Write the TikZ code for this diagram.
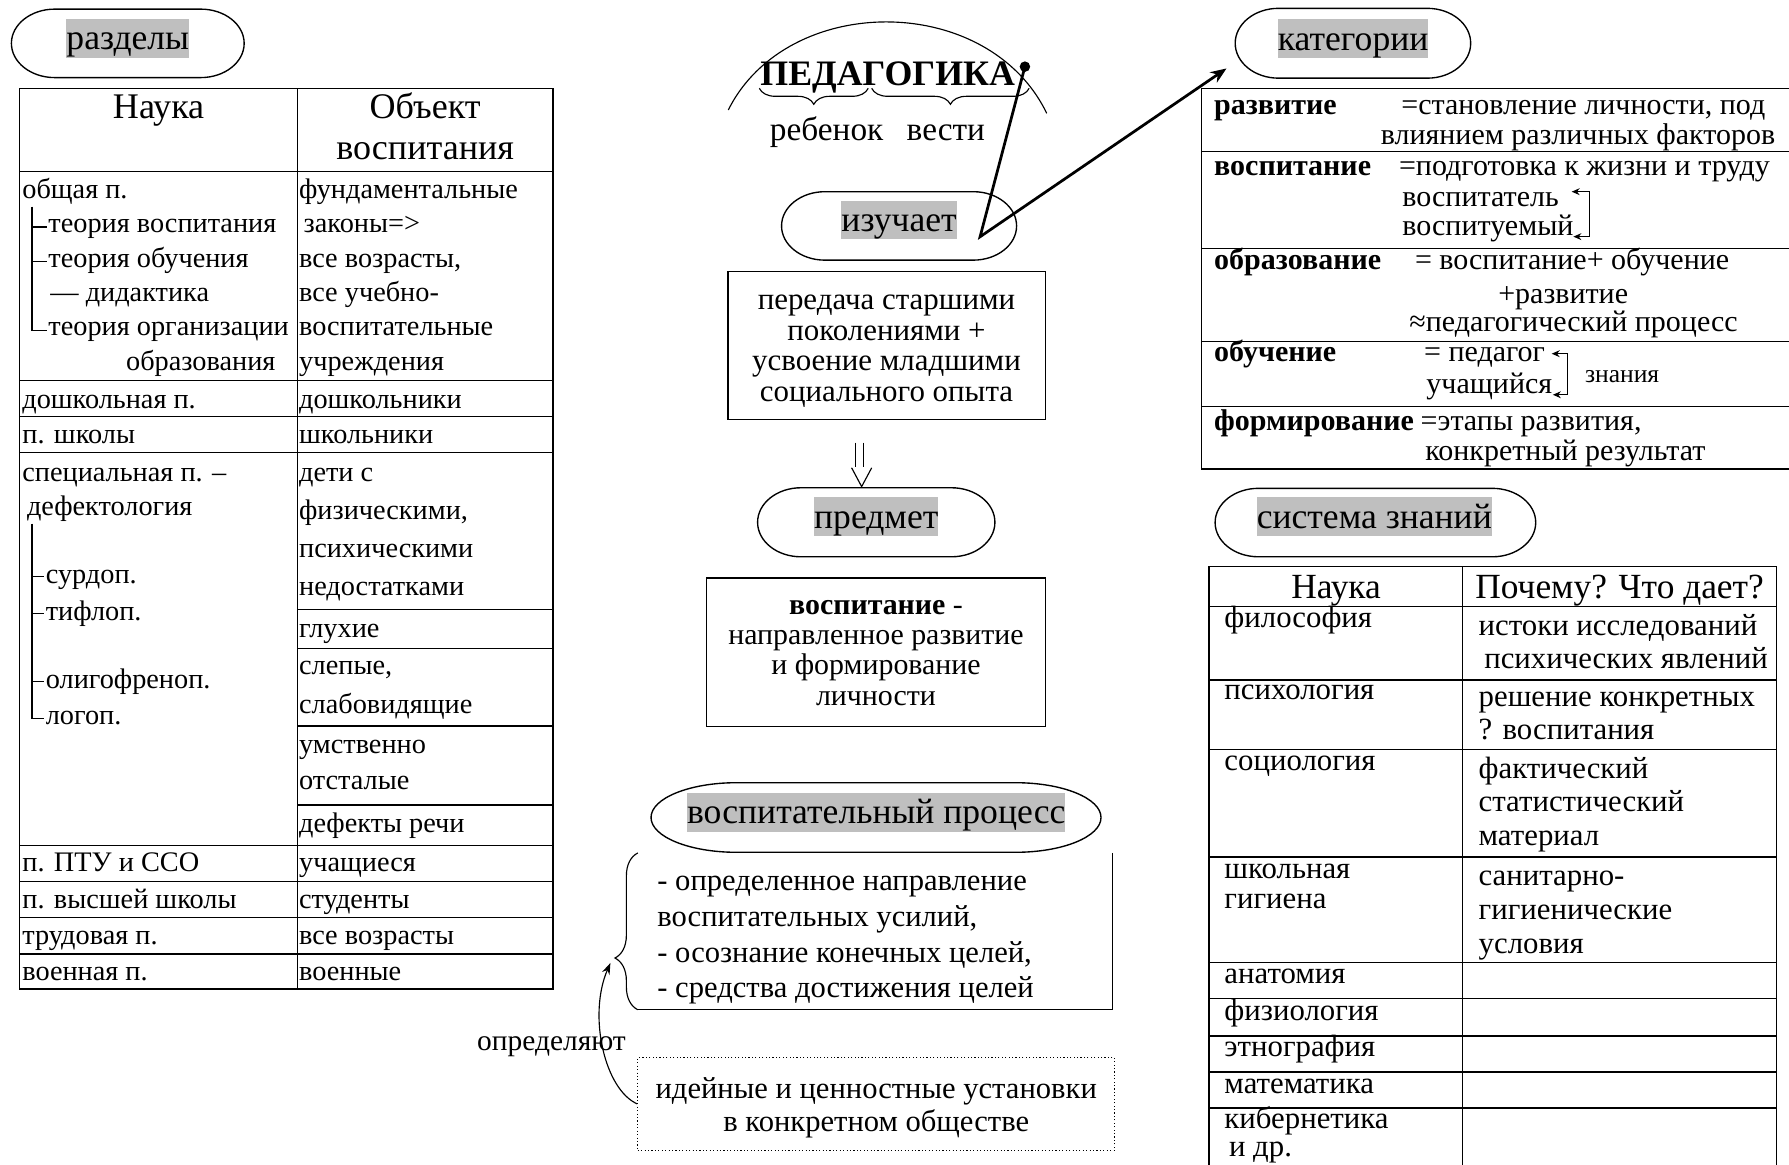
\documentclass[tikz,border=0pt]{standalone}
\usepackage{fontspec}
\setmainfont{Liberation Serif}
\usetikzlibrary{arrows.meta,decorations.pathreplacing}
\definecolor{hlgray}{gray}{0.75}
% gray text highlight
\newcommand\hlb[1]{{\setlength{\fboxsep}{0pt}\colorbox{hlgray}{\rule[-0.22em]{0pt}{1.09em}#1}}}
\newcommand\setfs[2]{\fontsize{#1}{#2}\selectfont}
% stacked lines with a fixed line pitch; baseline = first line
\newcommand\lnsL[2][]{\vtop{\lineskiplimit=-1000pt\lineskip=0pt#1\halign{##\hfil\cr#2\crcr}}}
\newcommand\lnsC[2][]{\vtop{\lineskiplimit=-1000pt\lineskip=0pt#1\halign{\hfil##\hfil\cr#2\crcr}}}
% stadium-like outline: x1,y1,x2,y2,rx
\newcommand\ovalshape[5]{%
  \draw[ovl] (#1+#5,#2) -- (#3-#5,#2)
    arc[start angle=-90,end angle=90,x radius=#5,y radius={(#4-#2)/2}]
    -- (#1+#5,#4)
    arc[start angle=90,end angle=270,x radius=#5,y radius={(#4-#2)/2}] -- cycle;}
\begin{document}
\begin{tikzpicture}[x=1pt,y=-1pt,
  tbl/.style={line width=1.3pt},
  thinl/.style={line width=1pt},
  ovl/.style={line width=1.2pt},
  conn/.style={line width=2.4pt},
  tx/.style={inner sep=0pt, anchor=base west},
  txc/.style={inner sep=0pt, anchor=base},
  lt/.style={tx, font=\setfs{24.8}{30.1}},
  hd/.style={txc, font=\setfs{31.6}{36.3}},
  ovtxt/.style={txc, font=\setfs{31.2}{36}},
  kt/.style={tx, font=\setfs{26.3}{28}},
  kb/.style={tx, font=\bfseries\setfs{26.3}{28}},
  zt/.style={tx, font=\setfs{27}{28.5}},
  zh/.style={txc, font=\setfs{31}{36}},
  smallbar/.style={thinl, {Stealth[length=7pt,width=6pt]}-{Stealth[length=7pt,width=6pt]}},
  bracedec/.style={thinl, decorate, decoration={brace, amplitude=#1}}
]
\useasboundingbox (0,0) rectangle (1568,1021);

% ---------------- left: sections of pedagogy ----------------
\ovalshape{10}{8}{214}{68}{38}
\node[ovtxt] (razdely) at (112,43.8) {\hlb{разделы}};

\draw[tbl] (17.2,77.4) rectangle (484.5,867);
\draw[tbl] (260.7,77.4) -- (260.7,867);
\foreach \yy in {150.5,333.5,365,396.7,741.2,772.8,804,836}
  \draw[tbl] (17.2,\yy) -- (484.5,\yy);
\foreach \yy in {534,568.5,636.4,705.6}
  \draw[tbl] (260.7,\yy) -- (484.5,\yy);

\node[hd] (h-nauka) at (139,103.7) {Наука};
\node[hd] (h-obj) at (372.6,103.7) {\lnsC{Объект\cr воспитания}};

\node[lt] (n11) at (19.4,174) {\lnsL{общая п.\cr\hspace*{22.9pt}теория воспитания\cr\hspace*{22.9pt}теория обучения\cr\hspace*{24.6pt}— дидактика\cr\hspace*{22.9pt}теория организации\cr\hspace*{91pt}образования}};
\node[lt] (n12) at (262,174) {\lnsL{фундаментальные\cr\hspace*{4pt}законы=>\cr все возрасты,\cr все учебно-\cr воспитательные\cr учреждения}};
\draw[thinl] (28,181) -- (28,289.4) -- (41,289.4);
\draw[thinl] (28,199) -- (41,199);
\draw[thinl] (28,229.4) -- (41,229.4);

\node[lt] (n21) at (19.4,357.7) {дошкольная п.};
\node[lt] (n22) at (262,357.7) {дошкольники};
\node[lt] (n31) at (19.4,388.5) {п. школы};
\node[lt] (n32) at (262,388.5) {школьники};

\node[lt] (n41) at (19.4,422) {специальная п. –};
\node[lt] (n41b) at (23.5,451.4) {дефектология};
\node[lt] (n41c) at (40,511) {сурдоп.};
\node[lt] (n41d) at (40,543.4) {тифлоп.};
\node[lt] (n41e) at (40,603) {олигофреноп.};
\node[lt] (n41f) at (40,635.4) {логоп.};
\draw[thinl] (28,459) -- (28,629.8) -- (39,629.8);
\draw[thinl] (28,505.4) -- (39,505.4);
\draw[thinl] (28,537.8) -- (39,537.8);
\draw[thinl] (28,597.4) -- (39,597.4);

\node[lt] (n42) at (262,422) {\lnsL[\baselineskip=33.2pt]{дети с\cr физическими,\cr психическими\cr недостатками}};
\node[lt] (n43) at (262,559) {глухие};
\node[lt] (n44) at (262,591.6) {\lnsL[\baselineskip=33.4pt]{слепые,\cr слабовидящие}};
\node[lt] (n45) at (262,660) {\lnsL[\baselineskip=32pt]{умственно\cr отсталые}};
\node[lt] (n46) at (262,730) {дефекты речи};

\node[lt] (n51) at (19.4,764) {п. ПТУ и ССО};
\node[lt] (n52) at (262,764) {учащиеся};
\node[lt] (n61) at (19.4,796) {п. высшей школы};
\node[lt] (n62) at (262,796) {студенты};
\node[lt] (n71) at (19.4,828) {трудовая п.};
\node[lt] (n72) at (262,828) {все возрасты};
\node[lt] (n81) at (19.4,859) {военная п.};
\node[lt] (n82) at (262,859) {военные};

% ---------------- centre ----------------
\draw[thinl] (638.3,96.4) .. controls (690,-7) and (866,-7) .. (917.4,99.3);
\node[txc, font=\bfseries\setfs{31.4}{36}] (ped) at (778,74.5) {ПЕДАГОГИКА};
\draw[bracedec=14pt] (761,77.4) -- (665.5,77.4);
\draw[bracedec=14pt] (902,77.4) -- (764,77.4);
\node[txc, font=\setfs{29.2}{34}] (rebenok) at (724.5,122.7) {ребенок};
\node[txc, font=\setfs{29.2}{34}] (vesti) at (829,122.7) {вести};
\node[circle, fill, inner sep=0pt, minimum size=9.2pt] (dot) at (898.3,58.4) {};

\ovalshape{685}{168}{891}{228}{38}
\node[ovtxt] (izuchaet) at (788,203) {\hlb{изучает}};
\coordinate (bend) at (859,207.5);
\coordinate (katin) at (1075,60);
\draw[conn, -{Stealth[length=14pt,width=11pt]}] (dot.center) -- (bend) -- (katin);

\node[draw, thinl, minimum width=278pt, minimum height=130pt, inner sep=0pt] (peredacha) at (777,303) {};
\node[txc, font=\setfs{27.1}{26.8}] (peredacha-t) at (777,271.5) {\lnsC{передача старшими\cr поколениями +\cr усвоение младшими\cr социального опыта}};

\draw[thinl] (750,388) -- (750,409);
\draw[thinl] (756.6,388) -- (756.6,409);
\draw[thinl] (746.4,410) -- (755.2,426.5) -- (764,410);

\ovalshape{664}{427.5}{872}{488}{38}
\node[ovtxt] (predmet) at (768,463) {\hlb{предмет}};

\node[draw, thinl, minimum width=296.5pt, minimum height=130.5pt, inner sep=0pt] (vosp) at (767.8,571.8) {};
\node[txc, font=\setfs{26.2}{26.3}] (vosp-t) at (767.8,539) {\lnsC{\textbf{воспитание} -\cr направленное развитие\cr и формирование\cr личности}};

\ovalshape{570.6}{686}{965}{747}{75}
\node[ovtxt] (vprocess) at (768,722) {\hlb{воспитательный процесс}};

\coordinate (brB) at (559,885);
\coordinate (brT) at (559,747.6);
\draw[thinl, decorate, decoration={brace, amplitude=20pt, aspect=0.33}] (brB) -- (brT);
\draw[thinl] (975,747.6) -- (975,885) -- (brB);
\node[tx, font=\setfs{26.8}{31.3}] (bullets) at (576,780.6) {\lnsL{- определенное направление\cr воспитательных усилий,\cr - осознание конечных целей,\cr - средства достижения целей}};

\node[draw, thinl, dotted, minimum width=418pt, minimum height=81pt, inner sep=0pt] (ideas) at (768,967.5) {};
\node[txc, font=\setfs{26.8}{29.1}] (ideas-t) at (768,962.7) {\lnsC{идейные и ценностные установки\cr в конкретном обществе}};
\node[tx, font=\setfs{25.8}{30}] (opred) at (418,921) {определяют};
\coordinate (brtip) at (535,844);
\draw[thinl, -{Stealth[length=10pt,width=7pt]}] (ideas.west) .. controls (530,955) and (515,890) .. (brtip);

% ---------------- right: categories ----------------
\ovalshape{1082.6}{7.3}{1289}{68.5}{38}
\node[ovtxt] (kategorii) at (1186,44) {\hlb{категории}};

\draw[tbl] (1570,77.4) -- (1053,77.4) -- (1053,411) -- (1570,411);
\foreach \yy in {133,217.7,299.5,356.5}
  \draw[tbl] (1053,\yy) -- (1570,\yy);

\node[kb] (k1) at (1064,100) {развитие};
\node[kt] (k1a) at (1228,100) {=становление личности, под};
\node[kt] (k1b) at (1210,126.5) {влиянием различных факторов};
\node[kb] (k2) at (1064,153.5) {воспитание};
\node[kt] (k2a) at (1226,153.5) {=подготовка к жизни и труду};
\node[kt] (k2b) at (1229,181) {воспитатель};
\node[kt] (k2c) at (1229,206) {воспитуемый};
\coordinate (b1a) at (1377.5,168);
\coordinate (b1b) at (1393.5,168);
\coordinate (b1c) at (1393.5,207.4);
\coordinate (b1d) at (1379,207.4);
\draw[smallbar] (b1a) -- (b1b) -- (b1c) -- (b1d);

\node[kb] (k3) at (1064,236.6) {образование};
\node[kt] (k3a) at (1240,236.6) {= воспитание+ обучение};
\node[kt] (k3b) at (1313,265.8) {+развитие};
\node[kt] (k3c) at (1235,290.7) {≈педагогический процесс};

\node[kb] (k4) at (1064,317) {обучение};
\node[kt] (k4a) at (1248,317) {= педагог};
\node[kt] (k4b) at (1250,344.6) {учащийся};
\node[tx, font=\setfs{22.4}{26}] (k4c) at (1389,335.4) {знания};
\coordinate (b2a) at (1360,310);
\coordinate (b2b) at (1373.6,310);
\coordinate (b2c) at (1373.6,346);
\coordinate (b2d) at (1361,346);
\draw[smallbar] (b2a) -- (b2b) -- (b2c) -- (b2d);

\node[kb] (k5) at (1064,377) {формирование};
\node[kt] (k5a) at (1245,377) {=этапы развития,};
\node[kt] (k5b) at (1249,403.5) {конкретный результат};

% ---------------- right: system of knowledge ----------------
\ovalshape{1065}{428}{1346}{488}{38}
\node[ovtxt] (sysz) at (1204.5,463) {\hlb{система знаний}};

\draw[tbl] (1059.7,1025) -- (1059.7,496.7) -- (1557,496.7) -- (1557,1025);
\draw[tbl] (1282,496.7) -- (1282,1025);
\foreach \yy in {531.7,596,657,751,843.7,875,908,939.7,971}
  \draw[tbl] (1059.7,\yy) -- (1557,\yy);

\node[zh] (zh1) at (1171,524.4) {Наука};
\node[zh] (zh2) at (1419.5,524.4) {Почему? Что дает?};

\node[zt] (z1) at (1073,550) {философия};
\node[zt] (z1r) at (1295.8,557) {истоки исследований};
\node[zt] (z1s) at (1300.7,585.6) {психических явлений};
\node[zt] (z2) at (1073,613.5) {психология};
\node[zt] (z2r) at (1295.8,619.5) {\lnsL{решение конкретных\cr ? воспитания}};
\node[zt] (z3) at (1073,675) {социология};
\node[zt] (z3r) at (1295.8,682) {\lnsL[\baselineskip=29.5pt]{фактический\cr статистический\cr материал}};
\node[zt] (z4) at (1073,769.7) {\lnsL[\baselineskip=26.3pt]{школьная\cr гигиена}};
\node[zt] (z4r) at (1295.8,775.7) {\lnsL[\baselineskip=30pt]{санитарно-\cr гигиенические\cr условия}};
\node[zt] (z5) at (1073,861.8) {анатомия};
\node[zt] (z6) at (1073,894) {физиология};
\node[zt] (z7) at (1073,926) {этнография};
\node[zt] (z8) at (1073,958) {математика};
\node[zt] (z9) at (1073,989) {кибернетика};
\node[zt] (z9b) at (1077,1014) {и др.};
\end{tikzpicture}
\end{document}
